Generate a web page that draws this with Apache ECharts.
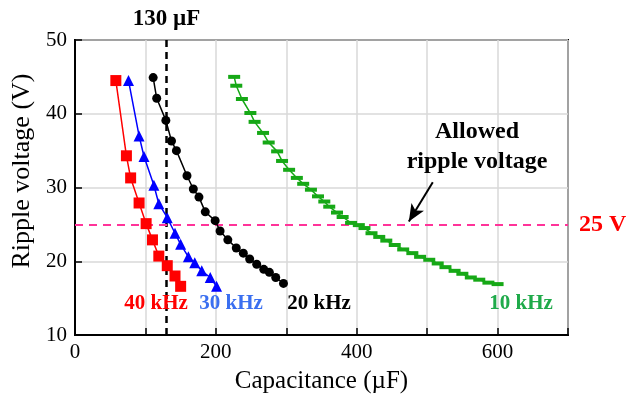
<!DOCTYPE html>
<html>
<head>
<meta charset="utf-8">
<script src="https://cdn.jsdelivr.net/npm/echarts@6/dist/echarts.min.js"></script>
<style>
  html, body { margin: 0; padding: 0; background: #fff; }
  #chart { width: 626px; height: 399px; }
</style>
</head>
<body>
<div id="chart"></div>
<script>
// capacitance (uF) and ripple voltage (V)
const cap40k = [58, 73, 79, 91, 101, 110, 119, 131, 142, 150];
const v40k = [44.5, 34.3, 31.3, 27.9, 25.1, 22.9, 20.7, 19.4, 18.0, 16.6];

const cap30k = [76, 91, 98, 112, 119, 131, 142, 150, 161, 170, 180, 192, 201];
const v30k = [44.5, 37.0, 34.2, 30.3, 27.8, 25.9, 23.8, 22.3, 20.6, 19.8, 18.7, 17.8, 16.6];

const cap20k = [111, 116, 129, 137, 144, 159, 168, 176, 185, 199, 206, 217, 229, 239, 248, 258, 268, 276, 285, 296];
const v20k = [44.9, 42.1, 39.1, 36.3, 35.0, 31.6, 29.8, 28.7, 26.7, 25.5, 24.1, 22.9, 21.8, 21.1, 20.3, 19.6, 18.9, 18.5, 17.8, 17.0];

const cap10k = [226, 229, 237, 249, 255, 267, 275, 287, 294, 304, 315, 324, 335, 345, 354, 361, 372, 380, 392, 403,
  411, 421, 432, 442, 454, 466, 479, 490, 503, 515, 526, 539, 550, 562, 574, 587, 600];
const v10k = [45.0, 43.8, 42.0, 40.1, 38.9, 37.4, 36.1, 34.9, 33.6, 32.4, 31.3, 30.5, 29.7, 28.8, 28.1, 27.4, 26.6, 26.0, 25.2, 24.9,
  24.5, 23.8, 23.3, 22.8, 22.2, 21.6, 21.1, 20.6, 20.2, 19.7, 19.2, 18.7, 18.3, 17.8, 17.5, 17.1, 16.9];

const selectedCap = 130;
const allowedRipple = 25;
const arrowFrom = [508, 30.7];
const arrowTo = [474, 25.4];

const FONT = "'Liberation Serif', 'Times New Roman', serif";

const zip = (xs, ys) => xs.map((x, i) => [x, ys[i]]);

const chart = echarts.init(document.getElementById("chart"), null, { renderer: "canvas" });

function lineSeries(name, xs, ys, color, symbol, symbolSize) {
  return {
    name,
    type: "line",
    data: zip(xs, ys),
    symbol,
    symbolSize,
    showSymbol: true,
    lineStyle: { color, width: 1.5 },
    itemStyle: { color },
    emphasis: { disabled: true },
    animation: false,
    z: 5,
  };
}

function note(text, x, y, color, size, weight = "bold") {
  return {
    type: "text", x, y, z: 10,
    style: {
      text, fill: color, font: `${weight} ${size}px ${FONT}`,
      align: "center", verticalAlign: "middle", lineHeight: 30,
    },
  };
}

// y title sits a bit above the axis middle in the original
const yTitle = note("Ripple voltage (V)", 22, 171, "#000000", 26, "normal");
yTitle.rotation = Math.PI / 2;

const option = {
  backgroundColor: "#fff",
  animation: false,
  grid: {
    left: 75, right: 58, top: 40, bottom: 64,
    show: true, borderColor: "#000", borderWidth: 2,
  },
  xAxis: {
    type: "value",
    min: 0, max: 700, interval: 100,
    name: "Capacitance (\u00b5F)",
    nameLocation: "middle",
    nameGap: 34,
    nameTextStyle: { fontFamily: FONT, fontSize: 25, color: "#000" },
    axisLine: { show: true, lineStyle: { color: "#000", width: 2 } },
    axisTick: { show: true, inside: true, length: 7, lineStyle: { color: "#000", width: 1.5 } },
    axisLabel: {
      fontFamily: FONT, fontSize: 21, color: "#000", margin: 7,
      formatter: (v) => (v % 200 === 0 ? String(v) : ""),
    },
    splitLine: { show: true, lineStyle: { color: "#d9d9d9", width: 1.5 } },
  },
  yAxis: {
    type: "value",
    min: 10, max: 50, interval: 10,
    axisLine: { show: true, lineStyle: { color: "#000", width: 2 } },
    axisTick: { show: true, inside: true, length: 7, lineStyle: { color: "#000", width: 1.5 } },
    axisLabel: { fontFamily: FONT, fontSize: 21, color: "#000", margin: 8 },
    splitLine: { show: true, lineStyle: { color: "#d9d9d9", width: 1.5 } },
  },
  series: [
    {
      type: "line",
      data: [],
      silent: true,
      markLine: {
        silent: true,
        symbol: ["none", "none"],
        animation: false,
        data: [
          {
            xAxis: selectedCap,
            lineStyle: { color: "#000", type: [7, 5], width: 2.5 },
            label: {
              show: true, position: "end", distance: 9,
              formatter: "130 \u00b5F",
              fontFamily: FONT, fontSize: 23, fontWeight: "bold", color: "#000",
            },
          },
          {
            yAxis: allowedRipple,
            lineStyle: { color: "#ff3399", type: [8, 6], width: 2 },
            label: {
              show: true, position: "end", distance: 11,
              formatter: "25 V",
              fontFamily: FONT, fontSize: 24, fontWeight: "bold", color: "#ff0000",
            },
          },
          [
            {
              coord: arrowFrom, symbol: "none",
              lineStyle: { color: "#000", type: "solid", width: 2 },
              label: { show: false },
            },
            { coord: arrowTo, symbol: "arrow", symbolSize: [11, 17] },
          ],
        ],
      },
    },
    lineSeries("40 kHz", cap40k, v40k, "#ff0000", "rect", 11),
    lineSeries("30 kHz", cap30k, v30k, "#0000ff", "triangle", 11),
    lineSeries("20 kHz", cap20k, v20k, "#000000", "circle", 9),
    lineSeries("10 kHz", cap10k, v10k, "#16a816", "rect", [12, 4]),
  ],
  graphic: [
    yTitle,
    note("40 kHz", 156, 304, "#ff0000", 21),
    note("30 kHz", 231, 304, "#3a6ff0", 21),
    note("20 kHz", 319, 304, "#000000", 21),
    note("10 kHz", 521, 304, "#1faa4a", 21),
    note("Allowed\nripple voltage", 477, 147, "#000000", 24),
  ],
};

chart.setOption(option);
</script>
</body>
</html>
